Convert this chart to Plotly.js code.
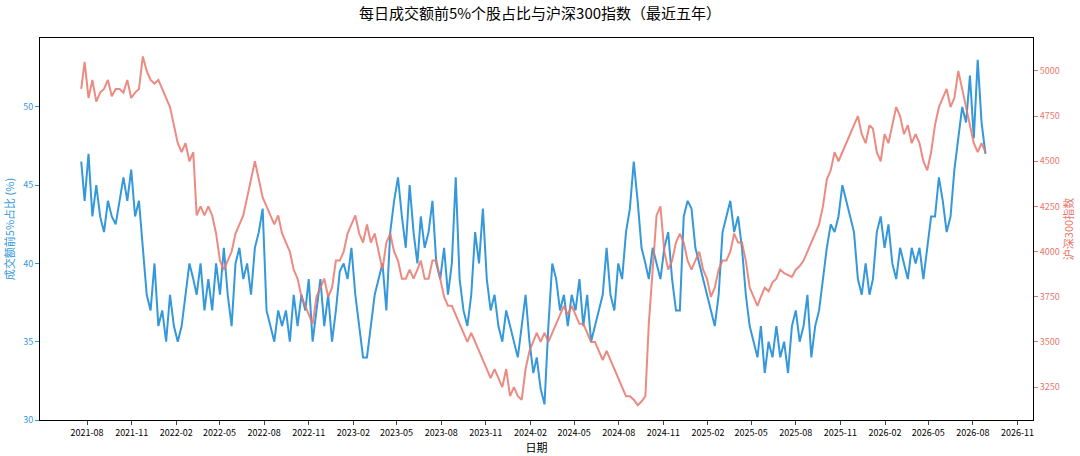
<!DOCTYPE html>
<html><head><meta charset="utf-8">
<script src="https://cdn.plot.ly/plotly-3.0.1.min.js"></script>
<style>body{margin:0}#c{width:1080px;height:456px}</style></head>
<body><div id="c"></div>
<script>
const startDate = "2021-07-20";
const endDate = "2026-08-27";
const shareValues = [46.5,44,47,43,45, 43,42,44,43,42.5, 44,45.5,44,46,43, 44,41,
38,37,40,36,37,35, 38,36,35,36,38, 40,39,38,40,37, 39,37,40,38,41, 38,36,40,41,39,
40,38,41,42,43.5, 37,36,35,37,36, 37,35,38,36,38, 37,39,35,37,39, 36,38,35,37,39.5,
40,39,41,38,36, 34,34, 36,38,39,40,37, 42,44,45.5,43,41, 45,42,40,43,41, 42,44,40,39,41,
38,40,45.5,39,37, 36,38,42,40,43.5, 39,37,38,36,35, 37,36,35,34,36,38, 35,33,34,32,31,
36,40,39,37,38, 36,38,37,39,36, 38,35,36,37,38, 41,38,37,40,39, 42,43.5,46.5,44,41,
40,39,41,40,39, 41,42,39,37,37, 43,44,43.5,41,40, 39,38,37,36,38, 42,43,44,42,43,
41,38,36,35,34, 36,33,35,34,36, 34,35,33,36,37, 35,36,38,34,36, 37,39,41,42.5,42,
43,45,44,43,42, 39,38,40,38,39, 42,43,41,42.5,40, 39,41,40,39,41, 40,41,39,41,43,
43,45.5,44,42,43, 46,48,50,49, 52,48,53,49,47];
const indexValues = [4900,5050,4850,4950,4830, 4880,4900,4950,4860,4900, 4900,4880,4950,4850,4880,
4900,5080,5000, 4950,4930,4950,4900,4850,4800, 4700,4600,4550,4600,4500,4550, 4200,4250,4200,
4250,4200,4100,3950,3900, 3950,4000,4100,4150,4200, 4300,4400,4500, 4400,4300,4250,4200,4150,4200,
4100,4050,4000,3900,3850, 3750,3700,3650,3600,3750, 3800,3850,3750,3800,3950,
3950,4000,4100,4150,4200, 4100,4050,4150,4050,4100, 4000,3900,4050,4100,4000,
3950,3850,3850,3900,3850, 3900,3950,3850,3850,3950, 3950,3850,3750,3700,3700,
3650,3600,3550,3500,3550, 3500,3450,3400,3350,3300, 3350,3300,3250,3350,3200,
3250,3200,3180,3350,3450, 3500,3550,3500,3550,3500, 3550,3600,3650,3700,3650,
3700,3650,3600,3600,3550, 3500,3500,3450,3400,3450, 3400,3350,3300,3250,3200,
3200,3180,3150,3170,3200, 3600,3900,4200,4250, 4000,3900,3950,4050,4100, 4050,3950,3900,3950,4000,
3900,3850,3750,3800,3900, 3950,3950,4000,4100,4050, 4050,3950,3800,3750,3700,
3750,3800,3780,3830,3850, 3900,3880,3870,3860,3900, 3920,3950,4000,4050,4100,
4150,4250,4400,4450,4550, 4500,4550,4600,4650,4700, 4750,4650,4600,4700,4680,
4550,4500,4650,4600,4700, 4800,4750,4650,4700,4600, 4650,4600,4500,4450,4550,
4700,4800,4850,4900,4800, 4850,5000,4900,4800, 4700,4600,4550,4600,4550];
const tickLabels = ["2021-08","2021-11","2022-02","2022-05","2022-08","2022-11","2023-02","2023-05","2023-08","2023-11","2024-02","2024-05","2024-08","2024-11","2025-02","2025-05","2025-08","2025-11","2026-02","2026-05","2026-08","2026-11"];

function spread(n){const a=new Date(startDate).getTime(),b=new Date(endDate).getTime();
  return Array.from({length:n},(_,i)=>new Date(a+(b-a)*i/(n-1)).toISOString().slice(0,10));}
const tickVals = tickLabels.map(t=>t+"-01");
const F = "Noto Sans CJK SC, DejaVu Sans, sans-serif";
const blue="#3498db", red="#e8776b";
Plotly.newPlot("c",[
 {x:spread(shareValues.length),y:shareValues,type:"scatter",mode:"lines",line:{color:blue,width:2},name:"成交额前5%个股占比"},
 {x:spread(indexValues.length),y:indexValues,type:"scatter",mode:"lines",line:{color:red,width:2},opacity:0.85,yaxis:"y2",name:"沪深300指数"}
],{
 width:1080,height:456,showlegend:false,paper_bgcolor:"#fff",plot_bgcolor:"#fff",
 margin:{l:40,r:47,t:38,b:36},
 font:{family:F,size:9,color:"#000"},
 title:{text:"每日成交额前5%个股占比与沪深300指数（最近五年）",x:0.5,y:0.97,yanchor:"middle",font:{size:15,family:F}},
 xaxis:{type:"date",range:["2021-04-26","2026-12-03"],tickvals:tickVals,ticktext:tickLabels,
   showgrid:false,zeroline:false,showline:true,mirror:true,linecolor:"#000",ticks:"outside",ticklen:4,
   title:{text:"日期",font:{size:11},standoff:4}},
 yaxis:{range:[30,54.4],tickvals:[30,35,40,45,50],showgrid:false,zeroline:false,showline:true,linecolor:"#000",
   ticks:"outside",ticklen:4,tickcolor:blue,tickfont:{color:blue,size:9},
   title:{text:"成交额前5%占比 (%)",font:{color:blue,size:11},standoff:6}},
 yaxis2:{overlaying:"y",side:"right",range:[3068,5182],tickvals:[3250,3500,3750,4000,4250,4500,4750,5000],
   showgrid:false,zeroline:false,showline:true,linecolor:"#000",ticks:"outside",ticklen:4,tickcolor:red,
   tickfont:{color:red,size:9},title:{text:"沪深300指数",font:{color:red,size:11},standoff:6}}
},{staticPlot:true});
</script></body></html>
